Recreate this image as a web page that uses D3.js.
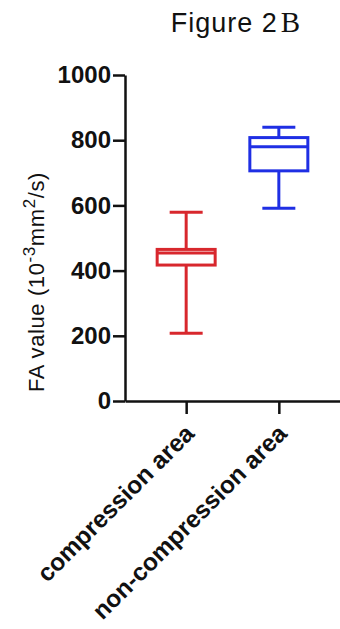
<!DOCTYPE html>
<html>
<head>
<meta charset="utf-8">
<script src="https://cdn.jsdelivr.net/npm/d3@7"></script>
<style>
  body { margin: 0; background: #fff; }
  svg { display: block; }
</style>
</head>
<body>
<svg width="340" height="629"></svg>
<script>
// Data
const categories = ["compression area", "non-compression area"];
const mins    = [208, 591];
const q1s     = [417, 706];
const medians = [454, 780];
const q3s     = [465, 808];
const maxs    = [579, 840];
const colors  = ["#d8272d", "#1f2fe4"];
const yTicks  = [0, 200, 400, 600, 800, 1000];

let boxes = categories.map((c, i) => ({
  name: c, min: mins[i], q1: q1s[i], median: medians[i], q3: q3s[i], max: maxs[i], color: colors[i]
}));

// Margins and dimensions
let margin = {top: 75, right: 0, bottom: 228, left: 125};
let width = 340 - margin.left - margin.right;
let height = 629 - margin.top - margin.bottom;

let svg = d3.select("svg");

// Title: "Figure 2" in sans, "B" in serif
let title = svg.append("text")
    .attr("x", 236)
    .attr("y", 32)
    .attr("text-anchor", "middle")
    .style("font-family", "Liberation Sans, Arial, sans-serif")
    .style("font-size", "27px")
    .style("letter-spacing", "1px")
    .attr("fill", "#111");
title.append("tspan").text("Figure 2");
title.append("tspan")
    .attr("dx", 3)
    .style("font-family", "Liberation Serif, Times New Roman, serif")
    .style("font-size", "29px")
    .text("B");

let g = svg.append("g")
    .attr("transform", "translate(" + margin.left + "," + margin.top + ")");

// Scales
let x = d3.scalePoint().domain(categories).range([0, width]).padding(0.66);
let y = d3.scaleLinear().domain([0, 1000]).range([height, 0]);

// Y axis
let yAxis = g.append("g")
    .call(d3.axisLeft(y).tickValues(yTicks).tickFormat(d3.format("d"))
      .tickSize(12).tickSizeOuter(0).tickPadding(2));
yAxis.select(".domain").attr("stroke-width", 2.5).attr("stroke", "#111");
yAxis.selectAll(".tick line").attr("stroke-width", 2.5).attr("stroke", "#111");
yAxis.selectAll(".tick text")
    .style("font-family", "Liberation Sans, Arial, sans-serif")
    .style("font-size", "24px")
    .style("font-weight", "bold")
    .attr("fill", "#111");

// X axis
let xAxis = g.append("g")
    .attr("transform", "translate(0," + height + ")")
    .call(d3.axisBottom(x).tickSize(13).tickSizeOuter(0).tickPadding(0));
xAxis.select(".domain").attr("stroke-width", 2.5).attr("stroke", "#111");
xAxis.selectAll(".tick line").attr("stroke-width", 2.5).attr("stroke", "#111");
xAxis.selectAll(".tick text")
    .style("font-family", "Liberation Sans, Arial, sans-serif")
    .style("font-size", "24.5px")
    .style("font-weight", "bold")
    .attr("fill", "#111")
    .attr("text-anchor", "end")
    .attr("dy", null)
    .attr("y", null)
    .attr("transform", "translate(9,34) rotate(-45)");

// Y axis title with superscripts
let yLabel = svg.append("text")
    .attr("transform", "translate(44,282) rotate(-90)")
    .attr("text-anchor", "middle")
    .style("font-family", "Liberation Sans, Arial, sans-serif")
    .style("font-size", "22px")
    .style("letter-spacing", "0.6px")
    .attr("fill", "#111");
yLabel.append("tspan").text("FA value (10");
yLabel.append("tspan").attr("dy", -9).style("font-size", "17px").text("-3");
yLabel.append("tspan").attr("dy", 9).text("mm");
yLabel.append("tspan").attr("dy", -9).style("font-size", "17px").text("2");
yLabel.append("tspan").attr("dy", 9).text("/s)");

// Box plots
let boxW = 58, capW = 33;
let bx = g.selectAll(".box")
    .data(boxes)
    .enter().append("g")
    .attr("class", "box")
    .attr("transform", d => "translate(" + x(d.name) + ",0)")
    .attr("stroke", d => d.color)
    .attr("stroke-width", 3)
    .attr("fill", "none");

// whiskers
bx.append("line").attr("x1", 0).attr("x2", 0).attr("y1", d => y(d.max)).attr("y2", d => y(d.q3));
bx.append("line").attr("x1", 0).attr("x2", 0).attr("y1", d => y(d.q1)).attr("y2", d => y(d.min));
// caps
bx.append("line").attr("x1", -capW / 2).attr("x2", capW / 2).attr("y1", d => y(d.max)).attr("y2", d => y(d.max));
bx.append("line").attr("x1", -capW / 2).attr("x2", capW / 2).attr("y1", d => y(d.min)).attr("y2", d => y(d.min));
// box
bx.append("rect")
    .attr("x", -boxW / 2)
    .attr("width", boxW)
    .attr("y", d => y(d.q3))
    .attr("height", d => y(d.q1) - y(d.q3))
    .attr("fill", "#fff");
// median
bx.append("line").attr("x1", -boxW / 2).attr("x2", boxW / 2).attr("y1", d => y(d.median)).attr("y2", d => y(d.median));
</script>
</body>
</html>
